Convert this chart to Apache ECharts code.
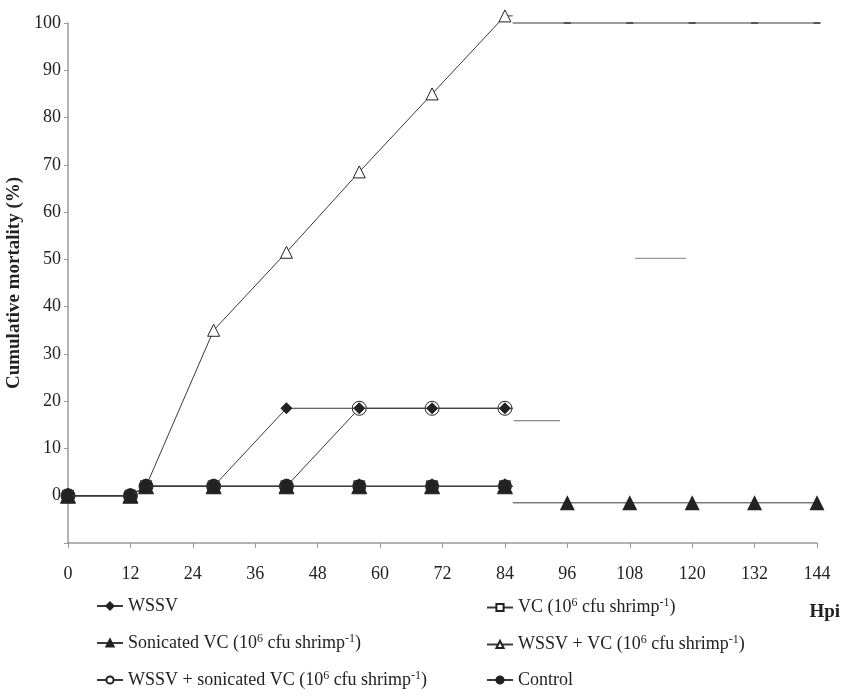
<!DOCTYPE html>
<html>
<head>
<meta charset="utf-8">
<script src="https://cdn.jsdelivr.net/npm/echarts@6/dist/echarts.min.js"></script>
<style>
html,body{margin:0;padding:0;background:#fff;}
#chart{width:841px;height:700px;}
</style>
</head>
<body>
<div id="chart"></div>
<script>
// ---- Data ----
const hours = [0, 12, 15, 28, 42, 56, 70, 84, 85.5];
const wssv = [0, 0, 2, 2, 18.5, 18.5, 18.5, 18.5, 18.5];
const vc = [0, 0, 2, 2, 2, 2, 2, 2, 2];
const sonicatedVC = [0, 0, 2, 2, 2, 2, 2, 2, 2];
const wssvVC = [0, 0, 2, 35, 51.5, 68.5, 85, 101.5, 101.5];
const wssvSonicatedVC = [0, 0, 2, 2, 2, 18.5, 18.5, 18.5, 18.5];
const control = [0, 0, 2, 2, 2, 2, 2, 2, 2];

const tailHours = [85.5, 96, 108, 120, 132, 144];
const tailUpper = [100, 100, 100, 100, 100, 100];
const tailLower = [-1.5, -1.5, -1.5, -1.5, -1.5, -1.5];

const strayHoursA = [85.7, 94.6];
const strayA = [15.9, 15.9];
const strayHoursB = [109, 118.8];
const strayB = [50.2, 50.2];

const xTicks = [0, 12, 24, 36, 48, 60, 72, 84, 96, 108, 120, 132, 144];
const yTicks = [0, 10, 20, 30, 40, 50, 60, 70, 80, 90, 100];

const names = {
  wssv: 'WSSV',
  vc: 'VC (10^6 cfu shrimp-1)',
  son: 'Sonicated VC (10^6 cfu shrimp-1)',
  wvc: 'WSSV + VC (10^6 cfu shrimp-1)',
  wson: 'WSSV + sonicated VC (10^6 cfu shrimp-1)',
  ctrl: 'Control'
};

// ---- Build chart ----
const FONT = '"Liberation Serif", "Times New Roman", serif';
const LINE = '#3a3a3a';
const DARK = '#222';

function pts(xs, ys, lastNoSymbol) {
  return xs.map((x, i) => {
    const d = { value: [x, ys[i]] };
    if (lastNoSymbol && i === xs.length - 1) d.symbol = 'none';
    return d;
  });
}
function tailPts(xs, ys) {
  return xs.map((x, i) => {
    const d = { value: [x, ys[i]] };
    if (i === 0) d.symbol = 'none';
    return d;
  });
}

function mainSeries(name, ys, symbol, size, filled, z) {
  return {
    name: name,
    type: 'line',
    data: pts(hours, ys, true),
    symbol: symbol,
    symbolSize: size,
    showAllSymbol: true,
    clip: false,
    z: z,
    lineStyle: { color: LINE, width: 1 },
    itemStyle: {
      color: filled ? DARK : '#fff',
      borderColor: DARK,
      borderWidth: 1
    },
    emphasis: { disabled: true },
    animation: false
  };
}

function legendFormatter(name) {
  const m = name.match(/^(.*)\(10\^6 cfu shrimp-1\)$/);
  if (!m) return '{t|' + name + '}';
  return '{t|' + m[1] + '(10}{s|6}{t| cfu shrimp}{s|-1}{t|)}';
}
const legendRich = {
  t: { fontFamily: FONT, fontSize: 18, color: DARK },
  s: { fontFamily: FONT, fontSize: 12, color: DARK, padding: [0, 0, 9, 0] }
};

const series = [
  mainSeries(names.wvc, wssvVC, 'triangle', 12, false, 2),
  mainSeries(names.wson, wssvSonicatedVC, 'circle', 14, false, 3),
  mainSeries(names.wssv, wssv, 'diamond', 11, true, 4),
  mainSeries(names.vc, vc, 'rect', 11, false, 5),
  mainSeries(names.ctrl, control, 'circle', 13, true, 6),
  mainSeries(names.son, sonicatedVC, 'triangle', 15, true, 7),
  {
    name: 'tailUpper', type: 'line', data: tailPts(tailHours, tailUpper),
    symbol: 'rect', symbolSize: [7, 2], clip: false, z: 2,
    lineStyle: { color: LINE, width: 1 }, itemStyle: { color: '#555' },
    emphasis: { disabled: true }, animation: false
  },
  {
    name: 'tailLower', type: 'line', data: tailPts(tailHours, tailLower),
    symbol: 'triangle', symbolSize: 15, clip: false, z: 7,
    lineStyle: { color: LINE, width: 1 }, itemStyle: { color: DARK },
    emphasis: { disabled: true }, animation: false
  },
  {
    name: 'strayA', type: 'line', data: pts(strayHoursA, strayA, false),
    symbol: 'none', clip: false, silent: true,
    lineStyle: { color: '#888', width: 1.2 }, animation: false
  },
  {
    name: 'strayB', type: 'line', data: pts(strayHoursB, strayB, false),
    symbol: 'none', clip: false, silent: true,
    lineStyle: { color: '#999', width: 1.2 }, animation: false
  }
];

const legendCommon = {
  orient: 'vertical', top: 592, height: 108, itemGap: 17.5,
  itemWidth: 26, itemHeight: 9,
  formatter: legendFormatter,
  textStyle: { rich: legendRich },
  selectedMode: false
};

const option = {
  backgroundColor: '#fff',
  animation: false,
  title: {
    text: 'Hpi',
    right: 1,
    top: 603,
    padding: 0,
    textStyle: { fontFamily: FONT, fontSize: 19, fontWeight: 'bold', color: DARK }
  },
  grid: { left: 68, right: 24, top: 23, bottom: 157, outerBoundsMode: 'none', containLabel: false },
  xAxis: {
    type: 'value',
    min: 0, max: 144, interval: 12,
    axisLine: { onZero: false, lineStyle: { color: '#9a9a9a', width: 1.5 } },
    axisTick: { show: true, length: 5, lineStyle: { color: '#9a9a9a' } },
    splitLine: { show: false },
    axisLabel: {
      margin: 22, fontFamily: FONT, fontSize: 18, color: DARK,
      formatter: v => (xTicks.indexOf(v) >= 0 ? String(v) : '')
    }
  },
  yAxis: {
    type: 'value',
    min: -10, max: 100, interval: 10,
    name: 'Cumulative mortality (%)',
    nameLocation: 'middle',
    nameGap: 38,
    nameTextStyle: { fontFamily: FONT, fontSize: 19, fontWeight: 'bold', color: DARK },
    axisLine: { show: true, onZero: false, lineStyle: { color: '#9a9a9a', width: 1.5 } },
    axisTick: { show: true, length: 4, lineStyle: { color: '#9a9a9a' } },
    splitLine: { show: false },
    axisLabel: {
      margin: 7, fontFamily: FONT, fontSize: 18, color: DARK,
      formatter: v => (yTicks.indexOf(v) >= 0 ? String(v) : '')
    }
  },
  legend: [
    Object.assign({}, legendCommon, {
      left: 91,
      data: [names.wssv, names.son, names.wson]
    }),
    Object.assign({}, legendCommon, {
      left: 481,
      data: [names.vc, names.wvc, names.ctrl]
    })
  ],
  series: series
};

const chart = echarts.init(document.getElementById('chart'), null, { renderer: 'canvas' });
chart.setOption(option);
</script>
</body>
</html>
